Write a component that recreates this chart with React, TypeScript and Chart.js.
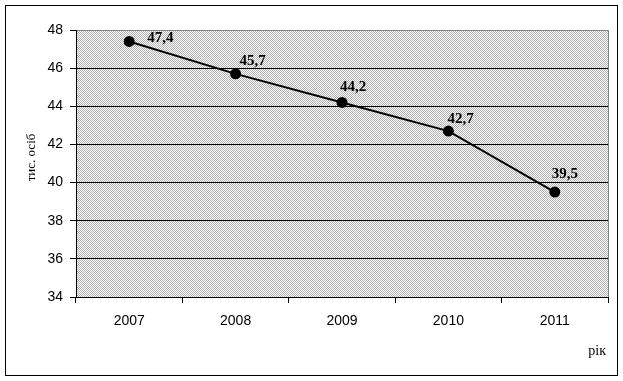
import React, { useEffect, useRef } from 'react';
import { Chart, registerables } from 'chart.js';

Chart.register(...registerables);

const years = ['2007', '2008', '2009', '2010', '2011'];
const values = [47.4, 45.7, 44.2, 42.7, 39.5];
const yMin = 34;
const yMax = 48;
const yStep = 2;
const yTitle = 'тис. осіб';
const xTitle = 'рік';
// manual label placement relative to each point: [dx, dy of baseline]
const labelOffsets: [number, number][] = [[18, 1], [4, -9], [-2, -11], [-1, -8], [-3, -14]];

const fmt = (v: number) => v.toFixed(1).replace('.', ',');

function makePattern(ctx: CanvasRenderingContext2D) {
  const c = document.createElement('canvas');
  c.width = 2;
  c.height = 2;
  const g = c.getContext('2d')!;
  g.fillStyle = '#ffffff';
  g.fillRect(0, 0, 2, 2);
  g.fillStyle = '#b0b0b0';
  g.fillRect(0, 0, 1, 1);
  g.fillRect(1, 1, 1, 1);
  return ctx.createPattern(c, 'repeat');
}

const decor = {
  id: 'decor',
  beforeDraw(chart: any) {
    const { ctx, chartArea } = chart;
    const { left, top, right, bottom } = chartArea;
    ctx.save();
    ctx.fillStyle = '#ffffff';
    ctx.fillRect(0, 0, chart.width, chart.height);
    ctx.strokeStyle = '#000000';
    ctx.lineWidth = 1;
    ctx.strokeRect(5.5, 5.5, chart.width - 11, chart.height - 11);
    ctx.fillStyle = makePattern(ctx);
    ctx.fillRect(left, top, right - left, bottom - top);
    ctx.strokeStyle = '#808080';
    ctx.beginPath();
    ctx.moveTo(left, top + 0.5);
    ctx.lineTo(right + 0.5, top + 0.5);
    ctx.lineTo(right + 0.5, bottom);
    ctx.stroke();
    ctx.restore();
  },
  afterDraw(chart: any) {
    const { ctx, chartArea } = chart;
    const meta = chart.getDatasetMeta(0);
    ctx.save();
    ctx.fillStyle = '#000000';
    ctx.font = 'bold 15px "Liberation Serif", "Times New Roman", serif';
    ctx.textAlign = 'left';
    ctx.textBaseline = 'alphabetic';
    meta.data.forEach((pt: any, i: number) => {
      const [dx, dy] = labelOffsets[i];
      ctx.fillText(fmt(values[i]), pt.x + dx, pt.y + dy);
    });
    // axis titles
    ctx.font = '14px "Liberation Serif", "Times New Roman", serif';
    ctx.textAlign = 'right';
    ctx.fillText(xTitle, chartArea.right - 2, 355);
    ctx.font = '13px "Liberation Serif", "Times New Roman", serif';
    ctx.translate(35, (chartArea.top + chartArea.bottom) / 2 - 6);
    ctx.rotate(-Math.PI / 2);
    ctx.textAlign = 'center';
    ctx.fillText(yTitle, 0, 0);
    ctx.restore();
  },
};

export default function App() {
  const ref = useRef<HTMLCanvasElement>(null);
  useEffect(() => {
    const chart = new Chart(ref.current!, {
      type: 'line',
      data: {
        labels: years,
        datasets: [
          {
            data: values,
            borderColor: '#000000',
            borderWidth: 2,
            pointRadius: 4.5,
            pointBackgroundColor: '#000000',
            pointBorderColor: '#000000',
            tension: 0,
          },
        ],
      },
      options: {
        responsive: false,
        animation: false,
        devicePixelRatio: 1,
        layout: { padding: { top: 30, right: 15, left: 0, bottom: 0 } },
        plugins: { legend: { display: false }, tooltip: { enabled: false } },
        scales: {
          x: {
            offset: true,
            grid: { offset: true, drawOnChartArea: false, drawTicks: true, tickLength: 6, tickColor: '#000000' },
            border: { color: '#000000' },
            ticks: {
              color: '#000000',
              padding: 10,
              font: { family: '"Liberation Sans", Arial, sans-serif', size: 14 },
              maxRotation: 0,
            },
            afterFit: (s: any) => {
              s.height = 84;
            },
          },
          y: {
            min: yMin,
            max: yMax,
            grid: {
              color: (c: any) => (c.tick && c.tick.value === yMax ? 'rgba(0,0,0,0)' : '#000000'),
              tickColor: '#000000',
              tickLength: 6,
            },
            border: { color: '#000000' },
            ticks: {
              stepSize: yStep,
              color: '#000000',
              padding: 7,
              font: { family: '"Liberation Sans", Arial, sans-serif', size: 14 },
            },
            afterFit: (s: any) => {
              s.width = 76;
            },
          },
        },
      },
      plugins: [decor],
    });
    return () => chart.destroy();
  }, []);
  return (
    <div style={{ position: 'fixed', left: 0, top: 0 }}>
      <canvas ref={ref} width={623} height={381} style={{ display: 'block' }} />
    </div>
  );
}
